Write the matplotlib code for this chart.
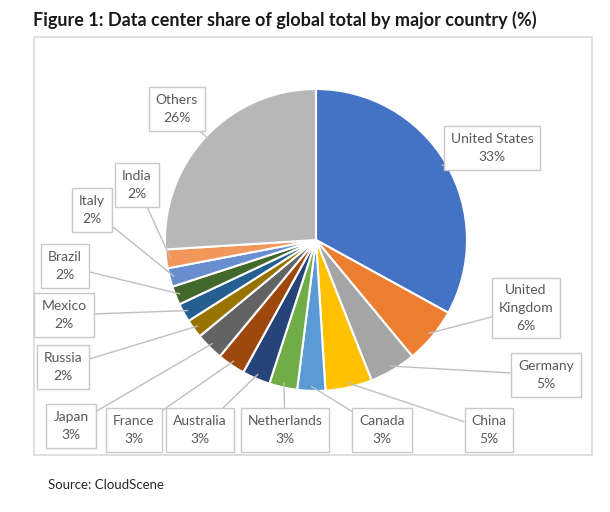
import numpy as np
import matplotlib.pyplot as plt
from matplotlib.patches import Rectangle

# ----------------------------
# Data
# ----------------------------
countries = ["United States", "United\nKingdom", "Germany", "China", "Canada",
             "Netherlands", "Australia", "France", "Japan", "Russia",
             "Mexico", "Brazil", "Italy", "India", "Others"]
shares = [33, 6, 5, 5, 3, 3, 3, 3, 3, 2, 2, 2, 2, 2, 26]

colors = ["#4472C4", "#ED7D31", "#A5A5A5", "#FFC000", "#5B9BD5", "#70AD47",
          "#264478", "#9E480E", "#636363", "#997300", "#255E91", "#43682B",
          "#698ED0", "#F1975A", "#B7B7B7"]

# label box centres, in pixels from the top-left corner
label_pos = [(492, 148), (526, 308), (546, 375), (489, 430), (382, 430),
             (285, 430), (200, 430), (134, 430), (71, 426), (63, 367),
             (64, 315), (65, 266), (92, 210), (137, 185), (177, 109)]

W, H = 610, 512
cx, cy, R = 316, 240, 151

fig = plt.figure(figsize=(W / 100, H / 100), dpi=100)
ax = fig.add_axes([0, 0, 1, 1])

wedges, _ = ax.pie(shares, colors=colors, startangle=90, counterclock=False,
                   center=(cx, H - cy), radius=R, frame=True,
                   wedgeprops=dict(edgecolor="white", linewidth=1.5))

ax.set_xlim(0, W)
ax.set_ylim(0, H)
ax.axis("off")

# chart area border
ax.add_patch(Rectangle((34, H - 455), 558, 418, fill=False,
                       edgecolor="#d9d9d9", linewidth=1.2))

for w, name, val, (lx, ly) in zip(wedges, countries, shares, label_pos):
    ang = np.deg2rad((w.theta1 + w.theta2) / 2)
    px = cx + 0.97 * R * np.cos(ang)
    py = (H - cy) + 0.97 * R * np.sin(ang)
    ax.annotate(f"{name}\n{val}%", xy=(px, py), xytext=(lx, H - ly),
                ha="center", va="center", fontsize=10, color="#595959",
                family="Lato", linespacing=1.55,
                bbox=dict(boxstyle="square,pad=0.5", fc="white",
                          ec="#c9c9c9", lw=1),
                arrowprops=dict(arrowstyle="-", color="#bfbfbf", lw=1,
                                shrinkA=0, shrinkB=0))

fig.text(33 / W, 1 - 20 / H,
         "Figure 1: Data center share of global total by major country (%)",
         fontsize=13, fontweight="bold", family="Lato", color="#1a1a1a",
         ha="left", va="center")
fig.text(48 / W, 1 - 485 / H, "Source: CloudScene", fontsize=9.5,
         family="Lato", color="#262626", ha="left", va="center")

plt.savefig("out.png", dpi=100)
